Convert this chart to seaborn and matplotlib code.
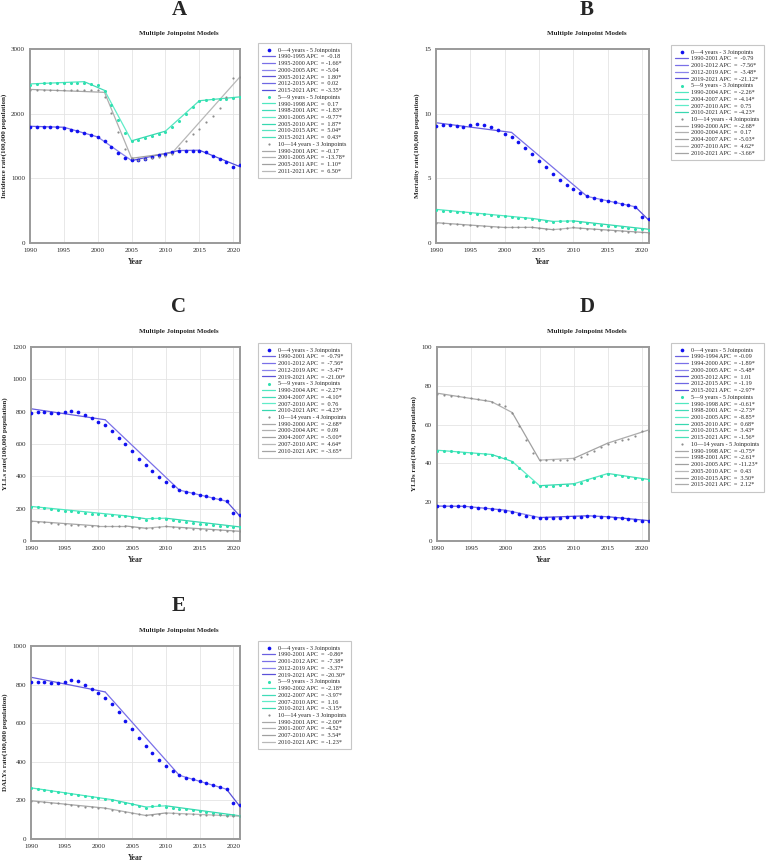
import matplotlib
matplotlib.use("Agg")
import matplotlib.pyplot as plt
import seaborn as sns
import pandas as pd

sns.set_style("white")
plt.rcParams['font.family'] = ['Liberation Serif', 'DejaVu Serif']

years = list(range(1990, 2022))

# ---- A: incidence
A_04_pts = [1800, 1800, 1800, 1795, 1790, 1780, 1755, 1730, 1700, 1670,
            1640, 1570, 1480, 1390, 1320, 1280, 1290, 1305, 1330, 1360,
            1380, 1410, 1430, 1430, 1430, 1430, 1400, 1350, 1300, 1250,
            1180, 1200]
A_04_jp = [1990, 1995, 2000, 2005, 2012, 2015, 2021]
A_04_fit = [1805, 1790, 1640, 1275, 1430, 1435, 1180]
A_59_pts = [2450, 2460, 2470, 2475, 2480, 2480, 2480, 2480, 2480, 2460,
            2440, 2350, 2140, 1900, 1700, 1580, 1590, 1620, 1650, 1680,
            1720, 1790, 1880, 1990, 2100, 2190, 2210, 2220, 2220, 2220,
            2240, 2260]
A_59_jp = [1990, 1998, 2001, 2005, 2010, 2015, 2021]
A_59_fit = [2460, 2495, 2360, 1580, 1730, 2200, 2260]
A_1014_pts = [2370, 2365, 2365, 2365, 2365, 2360, 2365, 2370, 2370, 2370,
              2370, 2260, 2010, 1710, 1460, 1310, 1290, 1300, 1310, 1330,
              1350, 1380, 1470, 1570, 1680, 1770, 1870, 1970, 2090, 2250,
              2550, 2560]
A_1014_jp = [1990, 2001, 2005, 2011, 2021]
A_1014_fit = [2375, 2330, 1310, 1395, 2570]
A_head = ["0\u20144 years - 5 Joinpoints", "5\u20149 years - 5 Joinpoints",
          "10\u201414 years - 3 Joinpoints"]
A_04_apc = ["1990-1995 APC  =  -0.18", "1995-2000 APC  = -1.66*", "2000-2005 APC  = -5.04",
            "2005-2012 APC  =  1.80*", "2012-2015 APC  =  0.02", "2015-2021 APC  = -3.35*"]
A_59_apc = ["1990-1998 APC  =  0.17", "1998-2001 APC  = -1.83*", "2001-2005 APC  = -9.77*",
            "2005-2010 APC  =  1.87*", "2010-2015 APC  =  5.04*", "2015-2021 APC  =  0.43*"]
A_1014_apc = ["1990-2001 APC  = -0.17", "2001-2005 APC  = -13.78*",
              "2005-2011 APC  =  1.10*", "2011-2021 APC  =  6.50*"]

# ---- B: mortality
B_04_pts = [9.05, 9.1, 9.1, 9.05, 9.0, 9.1, 9.2, 9.15, 8.95, 8.7,
            8.45, 8.2, 7.8, 7.35, 6.85, 6.35, 5.85, 5.35, 4.9, 4.5,
            4.15, 3.85, 3.6, 3.45, 3.35, 3.25, 3.15, 3.05, 2.95, 2.8,
            2.0, 1.85]
B_04_jp = [1990, 2001, 2012, 2019, 2021]
B_04_fit = [9.3, 8.55, 3.6, 2.8, 1.75]
B_59_pts = [2.55, 2.5, 2.47, 2.42, 2.37, 2.32, 2.27, 2.22, 2.17, 2.12,
            2.07, 2.02, 1.97, 1.92, 1.87, 1.8, 1.7, 1.6, 1.7, 1.72,
            1.68, 1.6, 1.55, 1.48, 1.41, 1.35, 1.28, 1.22, 1.16, 1.1,
            1.05, 1.0]
B_59_jp = [1990, 2004, 2007, 2010, 2021]
B_59_fit = [2.6, 1.9, 1.67, 1.71, 1.06]
B_1014_pts = [1.55, 1.52, 1.48, 1.45, 1.41, 1.37, 1.33, 1.3, 1.27, 1.23,
              1.2, 1.2, 1.2, 1.21, 1.2, 1.15, 1.1, 1.05, 1.08, 1.15,
              1.2, 1.15, 1.1, 1.06, 1.02, 0.98, 0.94, 0.9, 0.87, 0.85,
              0.82, 0.8]
B_1014_jp = [1990, 2000, 2004, 2007, 2010, 2021]
B_1014_fit = [1.57, 1.2, 1.21, 1.03, 1.18, 0.79]
B_head = ["0\u20144 years - 3 Joinpoints", "5\u20149 years - 3 Joinpoints",
          "10\u201414 years - 4 Joinpoints"]
B_04_apc = ["1990-2001 APC  =  -0.79", "2001-2012 APC  =  -7.56*",
            "2012-2019 APC  =  -3.48*", "2019-2021 APC  = -21.12*"]
B_59_apc = ["1990-2004 APC  = -2.26*", "2004-2007 APC  = -4.14*",
            "2007-2010 APC  =  0.75", "2010-2021 APC  = -4.23*"]
B_1014_apc = ["1990-2000 APC  = -2.68*", "2000-2004 APC  =  0.17", "2004-2007 APC  = -5.03*",
              "2007-2010 APC  =  4.62*", "2010-2021 APC  = -3.66*"]

# ---- C: YLLs
C_04_pts = [794, 795, 797, 792, 790, 795, 805, 800, 780, 758,
            738, 718, 683, 640, 598, 555, 510, 468, 432, 398,
            365, 338, 315, 302, 295, 287, 278, 268, 260, 245,
            172, 160]
C_04_jp = [1990, 2001, 2012, 2019, 2021]
C_04_fit = [818, 750, 315, 246, 153]
C_59_pts = [213, 210, 207, 200, 193, 188, 183, 178, 173, 169,
            166, 163, 160, 157, 153, 148, 140, 132, 140, 143,
            138, 130, 125, 120, 113, 108, 103, 98, 93, 90,
            87, 84]
C_59_jp = [1990, 2004, 2007, 2010, 2021]
C_59_fit = [214, 156, 138, 141, 87]
C_1014_pts = [122, 118, 115, 111, 107, 103, 100, 97, 94, 92,
              90, 90, 90, 91, 90, 86, 82, 78, 80, 87,
              90, 87, 83, 80, 77, 74, 71, 69, 66, 64,
              62, 60]
C_1014_jp = [1990, 2000, 2004, 2007, 2010, 2021]
C_1014_fit = [123, 93, 93, 79, 90, 60]
C_head = ["0\u20144 years - 3 Joinpoints", "5\u20149 years - 3 Joinpoints",
          "10\u201414 years - 4 Joinpoints"]
C_04_apc = ["1990-2001 APC  =  -0.79*", "2001-2012 APC  =  -7.56*",
            "2012-2019 APC  =  -3.47*", "2019-2021 APC  = -21.00*"]
C_59_apc = ["1990-2004 APC  = -2.27*", "2004-2007 APC  = -4.10*",
            "2007-2010 APC  =  0.76", "2010-2021 APC  = -4.23*"]
C_1014_apc = ["1990-2000 APC  = -2.68*", "2000-2004 APC  =  0.09", "2004-2007 APC  = -5.00*",
              "2007-2010 APC  =  4.64*", "2010-2021 APC  = -3.65*"]

# ---- D: YLDs
D_04_pts = [18.0, 18.0, 18.0, 17.9, 17.8, 17.5, 17.2, 16.9, 16.5, 16.1,
            15.7, 15.0, 14.0, 13.0, 12.4, 12.0, 12.0, 12.0, 12.1, 12.2,
            12.4, 12.6, 12.8, 12.7, 12.5, 12.3, 12.0, 11.6, 11.2, 10.9,
            10.4, 10.5]
D_04_jp = [1990, 1994, 2000, 2005, 2012, 2015, 2021]
D_04_fit = [18.0, 17.9, 15.9, 12.1, 13.0, 12.5, 10.5]
D_59_pts = [46.5, 46.5, 46.2, 45.9, 45.6, 45.3, 45.0, 44.7, 44.3, 43.5,
            42.7, 40.8, 37.5, 33.5, 30.5, 28.6, 28.5, 28.6, 28.8, 29.0,
            29.2, 30.0, 31.2, 32.3, 33.5, 34.3, 34.2, 33.6, 33.0, 32.4,
            31.8, 31.5]
D_59_jp = [1990, 1998, 2001, 2005, 2010, 2015, 2021]
D_59_fit = [46.8, 44.6, 41.0, 28.5, 29.5, 34.8, 31.7]
D_1014_pts = [76.0, 75.5, 75.0, 74.5, 74.0, 73.5, 73.0, 72.5, 71.8, 70.5,
              69.5, 66.0, 59.5, 52.0, 45.5, 41.8, 41.5, 41.5, 41.6, 41.8,
              42.2, 43.5, 45.0, 46.5, 48.5, 50.2, 51.0, 52.0, 52.8, 54.0,
              56.5, 56.8]
D_1014_jp = [1990, 1998, 2001, 2005, 2010, 2015, 2021]
D_1014_fit = [76.2, 71.8, 66.2, 41.7, 42.6, 50.5, 57.3]
D_head = ["0\u20144 years - 5 Joinpoints", "5\u20149 years - 5 Joinpoints",
          "10\u201414 years - 5 Joinpoints"]
D_04_apc = ["1990-1994 APC  = -0.09", "1994-2000 APC  = -1.89*", "2000-2005 APC  = -5.48*",
            "2005-2012 APC  =  1.01", "2012-2015 APC  = -1.19", "2015-2021 APC  = -2.97*"]
D_59_apc = ["1990-1998 APC  = -0.61*", "1998-2001 APC  = -2.73*", "2001-2005 APC  = -8.85*",
            "2005-2010 APC  =  0.68*", "2010-2015 APC  =  3.43*", "2015-2021 APC  = -1.56*"]
D_1014_apc = ["1990-1998 APC  = -0.75*", "1998-2001 APC  = -2.61*", "2001-2005 APC  = -11.23*",
              "2005-2010 APC  =  0.43", "2010-2015 APC  =  3.50*", "2015-2021 APC  =  2.12*"]

# ---- E: DALYs
E_04_pts = [814, 815, 815, 810, 808, 812, 822, 818, 797, 775,
            755, 733, 698, 657, 612, 568, 524, 482, 444, 410,
            380, 353, 330, 316, 310, 300, 290, 281, 272, 257,
            185, 174]
E_04_jp = [1990, 2001, 2012, 2019, 2021]
E_04_fit = [838, 762, 330, 258, 168]
E_59_pts = [262, 258, 255, 250, 243, 237, 232, 228, 222, 217,
            212, 207, 201, 194, 187, 180, 170, 160, 170, 174,
            168, 162, 157, 153, 148, 144, 140, 135, 130, 126,
            122, 118]
E_59_jp = [1990, 2002, 2007, 2010, 2021]
E_59_fit = [265, 204, 166, 172, 120]
E_1014_pts = [198, 194, 191, 188, 184, 180, 176, 172, 168, 165,
              162, 160, 152, 146, 139, 133, 127, 122, 125, 132,
              136, 133, 131, 129, 128, 126, 125, 123, 122, 121,
              120, 119]
E_1014_jp = [1990, 2001, 2007, 2010, 2021]
E_1014_fit = [198, 160, 122, 135, 118]
E_head = ["0\u20144 years - 3 Joinpoints", "5\u20149 years - 3 Joinpoints",
          "10\u201414 years - 3 Joinpoints"]
E_04_apc = ["1990-2001 APC  =  -0.86*", "2001-2012 APC  =  -7.38*",
            "2012-2019 APC  =  -3.37*", "2019-2021 APC  = -20.30*"]
E_59_apc = ["1990-2002 APC  = -2.18*", "2002-2007 APC  = -3.97*",
            "2007-2010 APC  =  1.16", "2010-2021 APC  = -3.15*"]
E_1014_apc = ["1990-2001 APC  = -2.00*", "2001-2007 APC  = -4.52*",
              "2007-2010 APC  =  3.54*", "2010-2021 APC  = -1.23*"]

# styles per age group: point colour, size, line colours
point_cols = ["#1010f0", "#30e0b0", "#8c8c8c"]
point_sizes = [7, 5, 2.5]
line_cols = [["#6a60e0", "#7a70e8", "#8a84ec", "#5a50d8", "#6f68e4", "#5550dc"],
             ["#50e8c0", "#40dcb8", "#60ecc8", "#38d8b0", "#58e4c0", "#48e0b8"],
             ["#a8a8a8", "#b0b0b0", "#a0a0a0", "#b8b8b8", "#a4a4a4", "#acacac"]]

W, H = 767, 863
fig = plt.figure(figsize=(W / 100, H / 100), dpi=100)

panels = [
    dict(letter="A", box=(30, 49, 240, 243), leg=(258, 43), lx=179, ly=10, sy=33,
         ylab="Incidence rate(100,000 population)", ymax=3000, step=1000, head=A_head,
         groups=[(A_04_pts, A_04_jp, A_04_fit, A_04_apc), (A_59_pts, A_59_jp, A_59_fit, A_59_apc),
                 (A_1014_pts, A_1014_jp, A_1014_fit, A_1014_apc)]),
    dict(letter="B", box=(436, 49, 649, 243), leg=(671, 45), lx=587, ly=10, sy=33,
         ylab="Mortality rate(100,000 population)", ymax=15, step=5, head=B_head,
         groups=[(B_04_pts, B_04_jp, B_04_fit, B_04_apc), (B_59_pts, B_59_jp, B_59_fit, B_59_apc),
                 (B_1014_pts, B_1014_jp, B_1014_fit, B_1014_apc)]),
    dict(letter="C", box=(31, 347, 240, 541), leg=(258, 343), lx=179, ly=307, sy=332,
         ylab="YLLs rate(100,000 population)", ymax=1200, step=200, head=C_head,
         groups=[(C_04_pts, C_04_jp, C_04_fit, C_04_apc), (C_59_pts, C_59_jp, C_59_fit, C_59_apc),
                 (C_1014_pts, C_1014_jp, C_1014_fit, C_1014_apc)]),
    dict(letter="D", box=(437, 347, 649, 541), leg=(671, 343), lx=587, ly=307, sy=332,
         ylab="YLDs rate(100, 000 population)", ymax=100, step=20, head=D_head,
         groups=[(D_04_pts, D_04_jp, D_04_fit, D_04_apc), (D_59_pts, D_59_jp, D_59_fit, D_59_apc),
                 (D_1014_pts, D_1014_jp, D_1014_fit, D_1014_apc)]),
    dict(letter="E", box=(31, 646, 240, 839), leg=(258, 641), lx=179, ly=606, sy=630,
         ylab="DALYs rate(100,000 population)", ymax=1000, step=200, head=E_head,
         groups=[(E_04_pts, E_04_jp, E_04_fit, E_04_apc), (E_59_pts, E_59_jp, E_59_fit, E_59_apc),
                 (E_1014_pts, E_1014_jp, E_1014_fit, E_1014_apc)]),
]

for p in panels:
    l, t, r, b = p["box"]
    ax = fig.add_axes([l / W, 1 - b / H, (r - l) / W, (b - t) / H])
    for gi, (pts, jp, fit, apc) in enumerate(p["groups"]):
        df = pd.DataFrame({"Year": years, "rate": pts})
        sns.scatterplot(data=df, x="Year", y="rate", ax=ax, color=point_cols[gi],
                        marker="o", s=point_sizes[gi], linewidth=0,
                        label=p["head"][gi], zorder=3)
        for si in range(len(jp) - 1):
            seg = pd.DataFrame({"Year": jp[si:si + 2], "rate": fit[si:si + 2]})
            sns.lineplot(data=seg, x="Year", y="rate", ax=ax, color=line_cols[gi][si],
                         lw=0.9, label=apc[si], zorder=2)
    ax.set_xlim(1990, 2021)
    ax.set_ylim(0, p["ymax"])
    ax.set_xticks(range(1990, 2021, 5))
    ax.set_yticks(range(0, p["ymax"] + 1, p["step"]))
    ax.grid(True, color="#e4e4e4", lw=0.6)
    for sp in ax.spines.values():
        sp.set_color("#9a9a9a")
        sp.set_linewidth(1.4)
    ax.tick_params(labelsize=5, length=2, width=0.5, color="#9a9a9a", pad=1.5)
    ax.set_xlabel("Year", fontsize=5.5, fontweight="bold", labelpad=4)
    ax.set_ylabel(p["ylab"], fontsize=5, fontweight="bold", labelpad=3)
    h, lab = ax.get_legend_handles_labels()
    lg = ax.legend(h, lab, loc="upper left", bbox_to_anchor=(p["leg"][0] / W, 1 - p["leg"][1] / H),
                   bbox_transform=fig.transFigure, fontsize=4.4, frameon=True, fancybox=False,
                   edgecolor="#b8b8b8", borderpad=0.7, handlelength=2.1, labelspacing=0.24,
                   handletextpad=0.5, borderaxespad=0, markerscale=1.0)
    lg.get_frame().set_linewidth(0.8)
    fig.text(p["lx"] / W, 1 - p["ly"] / H, p["letter"], ha="center", va="center",
             fontsize=15, fontweight="bold")
    fig.text(p["lx"] / W, 1 - p["sy"] / H, "Multiple Joinpoint Models", ha="center",
             va="center", fontsize=5, fontweight="bold")

plt.savefig("out.png", dpi=100)
